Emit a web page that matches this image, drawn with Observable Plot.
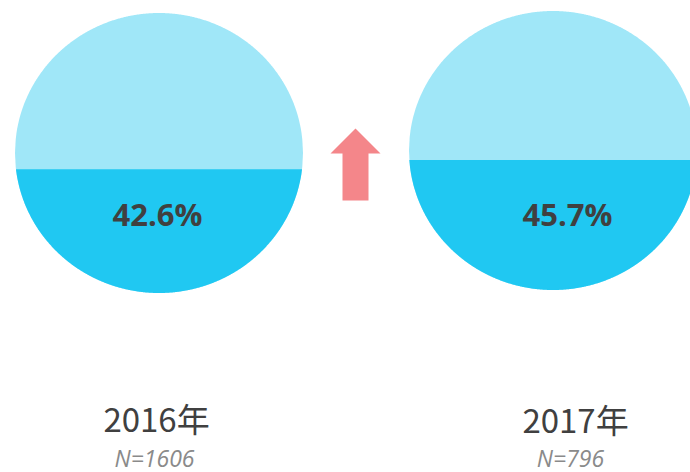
<!DOCTYPE html>
<html>
<head>
<meta charset="utf-8">
<script src="https://cdn.jsdelivr.net/npm/d3@7"></script>
<script src="https://cdn.jsdelivr.net/npm/@observablehq/plot@0.6"></script>
<style>
  html, body { margin: 0; padding: 0; background: #fff; overflow: hidden; }
  #chart { width: 690px; height: 472px; }
</style>
</head>
<body>
<div id="chart"></div>
<script>
// ---- data ----
const years = ["2016年", "2017年"];
const sampleSizes = [1606, 796];
const shares = [42.6, 45.7];

// ---- layout (pixels) ----
const layout = [
  {cx: 159, cy: 153, rx: 144, ry: 140, pctX: 157, pctY: 225, labelX: 156, labelY: 431, nX: 154, nY: 466},
  {cx: 553, cy: 150.5, rx: 144, ry: 139.5, pctX: 567, pctY: 225, labelX: 575, labelY: 432, nX: 570, nY: 466}
];
const colors = {light: "#a0e7f8", dark: "#20c8f2", text: "#404040", sub: "#8a8a8a", arrow: "#f4868a"};

// area fraction below a horizontal chord at normalized offset t (t>0: below center)
function fracBelow(t) { return (Math.acos(t) - t * Math.sqrt(1 - t * t)) / Math.PI; }
function chordOffset(p) {
  let lo = -1, hi = 1;
  for (let i = 0; i < 60; i++) {
    const mid = (lo + hi) / 2;
    if (fracBelow(mid) > p) lo = mid; else hi = mid;
  }
  return (lo + hi) / 2;
}

const rows = years.map((year, i) => ({year, n: sampleSizes[i], share: shares[i], ...layout[i]}));

const N = 400;
const lightPts = [], darkPts = [];
rows.forEach((r, k) => {
  for (let i = 0; i <= N; i++) {
    const x = r.cx - r.rx + 2 * r.rx * i / N;
    const s = Math.sqrt(Math.max(0, 1 - ((x - r.cx) / r.rx) ** 2));
    lightPts.push({k, x, top: r.cy - r.ry * s, bot: r.cy + r.ry * s});
  }
  const t = chordOffset(r.share / 100);
  const c = r.cy + t * r.ry;
  const w = t >= 0 ? r.rx * Math.sqrt(1 - t * t) : r.rx;
  for (let i = 0; i <= N; i++) {
    const x = r.cx - w + 2 * w * i / N;
    const s = Math.sqrt(Math.max(0, 1 - ((x - r.cx) / r.rx) ** 2));
    darkPts.push({k, x, top: Math.max(c, r.cy - r.ry * s), bot: r.cy + r.ry * s});
  }
});

// arrow indicating direction of change between the two years
const up = shares[1] > shares[0];
const ax = 355, aTip = up ? 128 : 200, aBase = up ? 153 : 175, aEnd = up ? 200 : 128;
const arrowPts = [
  {x: ax, y: aTip}, {x: ax + 25, y: aBase}, {x: ax + 13, y: aBase}, {x: ax + 13, y: aEnd},
  {x: ax - 13, y: aEnd}, {x: ax - 13, y: aBase}, {x: ax - 25, y: aBase}
];

const chart = Plot.plot({
  width: 690,
  height: 472,
  margin: 0,
  x: {type: "identity", axis: null},
  y: {type: "identity", axis: null},
  style: {background: "#fff", overflow: "hidden"},
  marks: [
    Plot.areaY(lightPts, {x: "x", y1: "top", y2: "bot", z: "k", fill: colors.light, clip: true}),
    Plot.areaY(darkPts, {x: "x", y1: "top", y2: "bot", z: "k", fill: colors.dark, clip: true}),
    Plot.line(arrowPts, {x: "x", y: "y", curve: "linear-closed", fill: colors.arrow, stroke: "none"}),
    Plot.text(rows, {x: "pctX", y: "pctY", text: d => d.share.toFixed(1) + "%", fontSize: 31, fontWeight: "bold",
      fontFamily: "Open Sans", fill: colors.text, lineAnchor: "bottom", textAnchor: "middle"}),
    Plot.text(rows, {x: "labelX", y: "labelY", text: "year", fontSize: 33,
      fontFamily: "Noto Sans CJK SC", fill: colors.text, lineAnchor: "bottom", textAnchor: "middle"}),
    Plot.text(rows, {x: "nX", y: "nY", text: d => "N=" + d.n, fontSize: 23, fontStyle: "italic",
      fontFamily: "Open Sans", fill: colors.sub, lineAnchor: "bottom", textAnchor: "middle",
      style: "letter-spacing: 1.5px"})
  ]
});
document.getElementById("chart").appendChild(chart);
</script>
</body>
</html>
